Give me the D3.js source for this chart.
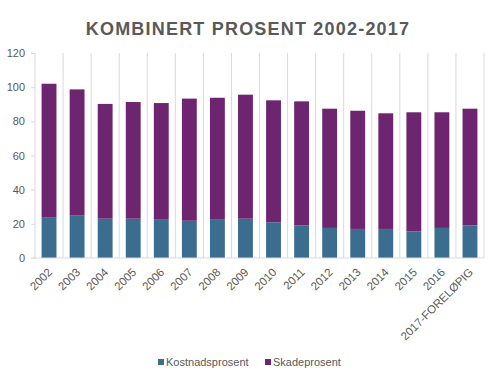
<!DOCTYPE html>
<html>
<head>
<meta charset="utf-8">
<script src="https://cdn.jsdelivr.net/npm/d3@7"></script>
<style>
  body { margin: 0; background: #fff; }
  svg text { font-family: "Liberation Sans", Arial, sans-serif; fill: #595959; }
</style>
</head>
<body>
<svg id="chart" width="500" height="387"></svg>
<script>
// categories and values
const years = ["2002", "2003", "2004", "2005", "2006", "2007", "2008", "2009",
    "2010", "2011", "2012", "2013", "2014", "2015", "2016", "2017-FORELØPIG"];
const kostnad = [23.6, 24.8, 23.0, 23.0, 22.4, 21.8, 22.4, 23.0,
    20.9, 19.1, 17.6, 17.0, 17.0, 15.6, 17.6, 19.1];
const skade = [78.4, 73.9, 67.2, 68.3, 68.3, 71.5, 71.4, 72.6,
    71.4, 72.6, 69.8, 69.2, 67.7, 69.7, 67.7, 68.3];
const yTicks = [0, 20, 40, 60, 80, 100, 120];
const seriesNames = ["Kostnadsprosent", "Skadeprosent"];
const colors = ["#3b6d8e", "#6e256f"];

const margin = { top: 53, right: 16, bottom: 129, left: 35 };
const width = 500 - margin.left - margin.right;
const height = 387 - margin.top - margin.bottom;

const svg = d3.select("#chart");

// title
svg.append("text")
    .attr("x", 248)
    .attr("y", 35)
    .attr("text-anchor", "middle")
    .style("font-size", "18px")
    .style("font-weight", "bold")
    .style("letter-spacing", "1.2px")
    .text("KOMBINERT PROSENT 2002-2017");

const g = svg.append("g")
    .attr("transform", `translate(${margin.left},${margin.top})`);

const x = d3.scaleBand()
    .domain(years)
    .range([0, width])
    .paddingInner(0.47)
    .paddingOuter(0.235);

const y = d3.scaleLinear()
    .domain([0, 120])
    .range([height, 0]);

// vertical gridlines between categories
const step = width / years.length;
g.selectAll(".grid")
    .data(d3.range(years.length + 1))
    .enter()
    .append("line")
    .attr("x1", d => d * step)
    .attr("x2", d => d * step)
    .attr("y1", 0)
    .attr("y2", height)
    .attr("stroke", "#d9d9d9")
    .attr("stroke-width", 1);

// stacked data
const rows = years.map((yr, i) => ({ year: yr, k: kostnad[i], s: skade[i] }));
const stack = d3.stack().keys(["k", "s"]);
const layers = stack(rows);

g.selectAll(".layer")
    .data(layers)
    .enter()
    .append("g")
    .attr("fill", (d, i) => colors[i])
    .selectAll("rect")
    .data(d => d)
    .enter()
    .append("rect")
    .attr("x", d => x(d.data.year))
    .attr("y", d => y(d[1]))
    .attr("width", x.bandwidth())
    .attr("height", d => y(d[0]) - y(d[1]));

// y axis labels with short ticks
const yAxis = g.append("g")
    .call(d3.axisLeft(y).tickValues(yTicks).tickSize(4).tickPadding(6));
yAxis.select(".domain").remove();
yAxis.selectAll(".tick line").attr("stroke", "#d9d9d9");
yAxis.selectAll("text")
    .style("font-size", "11px")
    .attr("fill", "#595959");

// x axis
const xAxis = g.append("g")
    .attr("transform", `translate(0,${height})`)
    .call(d3.axisBottom(x).tickSize(0));
xAxis.select(".domain")
    .attr("stroke", "#d9d9d9")
    .attr("d", `M-4,0H${width}`);
xAxis.selectAll("text")
    .style("font-size", "11.5px")
    .attr("fill", "#595959")
    .attr("text-anchor", "end")
    .attr("x", 0)
    .attr("y", 0)
    .attr("dy", "0.35em")
    .attr("transform", "translate(1,12) rotate(-45)");

// legend
const legend = svg.append("g")
    .attr("transform", "translate(158,362)");
const legendX = [0, 107];
seriesNames.forEach((name, i) => {
    const item = legend.append("g").attr("transform", `translate(${legendX[i]},0)`);
    item.append("rect")
        .attr("x", 0)
        .attr("y", -3)
        .attr("width", 6)
        .attr("height", 6)
        .attr("fill", colors[i]);
    item.append("text")
        .attr("x", 8)
        .attr("y", 0)
        .attr("dy", "0.35em")
        .style("font-size", "11px")
        .text(name);
});
</script>
</body>
</html>
